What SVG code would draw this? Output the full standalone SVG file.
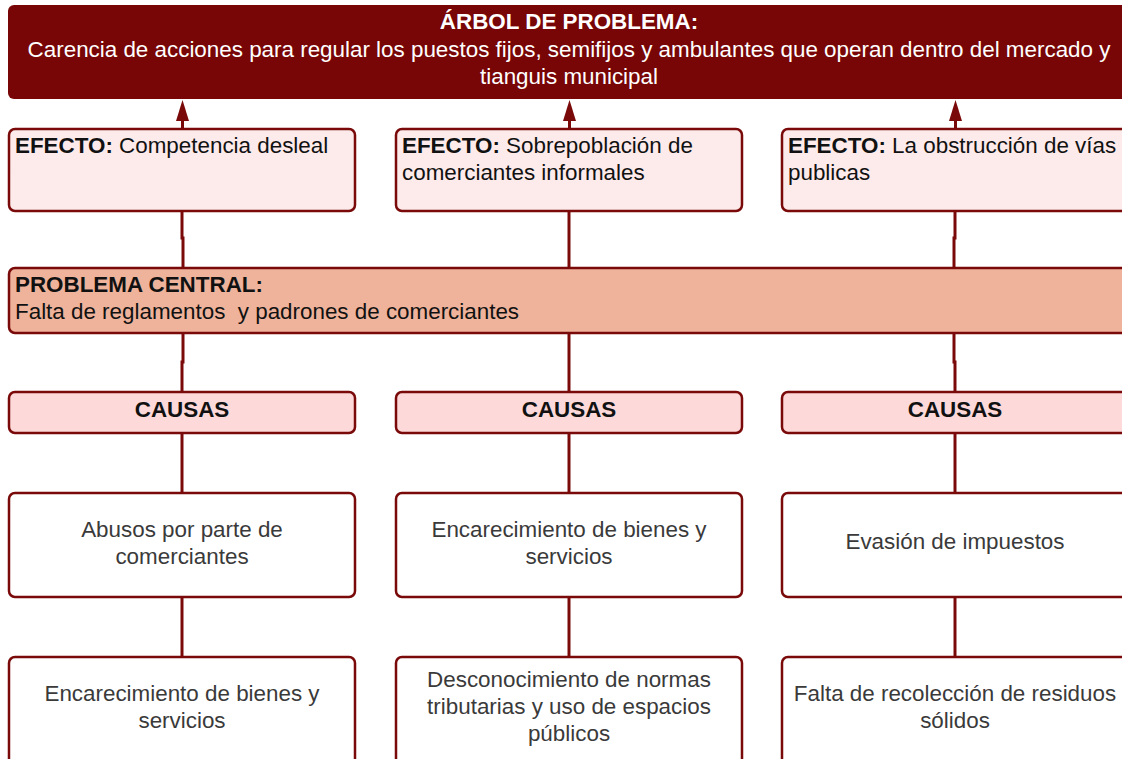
<svg xmlns="http://www.w3.org/2000/svg" width="1122" height="759" viewBox="0 0 1122 759">
<defs>
<style>
.box{stroke:#7a0a0a;stroke-width:2.5}
.eff{fill:#fdebeb}
.prob{fill:#efb39b}
.cau{fill:#fdd9da}
.plain{fill:#ffffff}
.t{font-family:"Liberation Sans",Arial,sans-serif;font-size:22.4px;fill:#111}
.b{font-weight:bold}
.c{text-anchor:middle}
.g{fill:#3a3a3a}
.w{fill:#ffffff}
.con{fill:none;stroke:#7a0a0a;stroke-width:3}
.ah{fill:#7a0a0a}
</style>
</defs>
<rect width="1122" height="759" fill="#ffffff"/>
<g id="connectors">
<path class="con" d="M182.5,129 V120"/>
<path class="ah" d="M182.5,100 L189,121 L176,121 Z"/>
<path class="con" d="M569.5,129 V120"/>
<path class="ah" d="M569.5,100 L576,121 L563,121 Z"/>
<path class="con" d="M955.5,129 V120"/>
<path class="ah" d="M955.5,100 L962,121 L949,121 Z"/>
<path class="con" d="M182,211 V238 H183 V268"/>
<path class="con" d="M569,211 V268"/>
<path class="con" d="M955,211 V238 H954 V268"/>
<path class="con" d="M183,333 V362 H182 V392"/>
<path class="con" d="M569,333 V392"/>
<path class="con" d="M954,333 V362 H955 V392"/>
<path class="con" d="M182,433 V493"/>
<path class="con" d="M569,433 V493"/>
<path class="con" d="M955,433 V493"/>
<path class="con" d="M182,597 V657"/>
<path class="con" d="M569,597 V657"/>
<path class="con" d="M955,597 V657"/>
</g>
<g id="banner">
<rect x="8" y="5" width="1130" height="94" rx="6" fill="#780606"/>
<text class="t b c w" x="569" y="29">ÁRBOL DE PROBLEMA:</text>
<text class="t c w" x="569" y="57">Carencia de acciones para regular los puestos fijos, semifijos y ambulantes que operan dentro del mercado y</text>
<text class="t c w" x="569" y="84">tianguis municipal</text>
</g>
<g id="efecto1">
<rect class="box eff" x="9" y="129" width="346" height="82" rx="6"/>
<text class="t" x="15" y="153"><tspan class="b">EFECTO:</tspan> Competencia desleal</text>
</g>
<g id="efecto2">
<rect class="box eff" x="396" y="129" width="346" height="82" rx="6"/>
<text class="t" x="402" y="153"><tspan class="b">EFECTO:</tspan> Sobrepoblación de</text>
<text class="t" x="402" y="180">comerciantes informales</text>
</g>
<g id="efecto3">
<rect class="box eff" x="782" y="129" width="346" height="82" rx="6"/>
<text class="t" x="788" y="153"><tspan class="b">EFECTO:</tspan> La obstrucción de vías</text>
<text class="t" x="788" y="180">publicas</text>
</g>
<g id="problema">
<rect class="box prob" x="9" y="268" width="1130" height="65" rx="6"/>
<text class="t b" x="15" y="292">PROBLEMA CENTRAL:</text>
<text class="t" x="15" y="319" xml:space="preserve">Falta de reglamentos  y padrones de comerciantes</text>
</g>
<g id="causas1">
<rect class="box cau" x="9" y="392" width="346" height="41" rx="6"/>
<text class="t b c" x="182" y="417">CAUSAS</text>
</g>
<g id="causas2">
<rect class="box cau" x="396" y="392" width="346" height="41" rx="6"/>
<text class="t b c" x="569" y="417">CAUSAS</text>
</g>
<g id="causas3">
<rect class="box cau" x="782" y="392" width="346" height="41" rx="6"/>
<text class="t b c" x="955" y="417">CAUSAS</text>
</g>
<g id="causa1a">
<rect class="box plain" x="9" y="493" width="346" height="104" rx="6"/>
<text class="t c g" x="182" y="537">Abusos por parte de</text>
<text class="t c g" x="182" y="564">comerciantes</text>
</g>
<g id="causa2a">
<rect class="box plain" x="396" y="493" width="346" height="104" rx="6"/>
<text class="t c g" x="569" y="537">Encarecimiento de bienes y</text>
<text class="t c g" x="569" y="564">servicios</text>
</g>
<g id="causa3a">
<rect class="box plain" x="782" y="493" width="346" height="104" rx="6"/>
<text class="t c g" x="955" y="549">Evasión de impuestos</text>
</g>
<g id="causa1b">
<rect class="box plain" x="9" y="657" width="346" height="120" rx="6"/>
<text class="t c g" x="182" y="701">Encarecimiento de bienes y</text>
<text class="t c g" x="182" y="728">servicios</text>
</g>
<g id="causa2b">
<rect class="box plain" x="396" y="657" width="346" height="120" rx="6"/>
<text class="t c g" x="569" y="687">Desconocimiento de normas</text>
<text class="t c g" x="569" y="714">tributarias y uso de espacios</text>
<text class="t c g" x="569" y="741">públicos</text>
</g>
<g id="causa3b">
<rect class="box plain" x="782" y="657" width="346" height="120" rx="6"/>
<text class="t c g" x="955" y="701">Falta de recolección de residuos</text>
<text class="t c g" x="955" y="728">sólidos</text>
</g>
</svg>
